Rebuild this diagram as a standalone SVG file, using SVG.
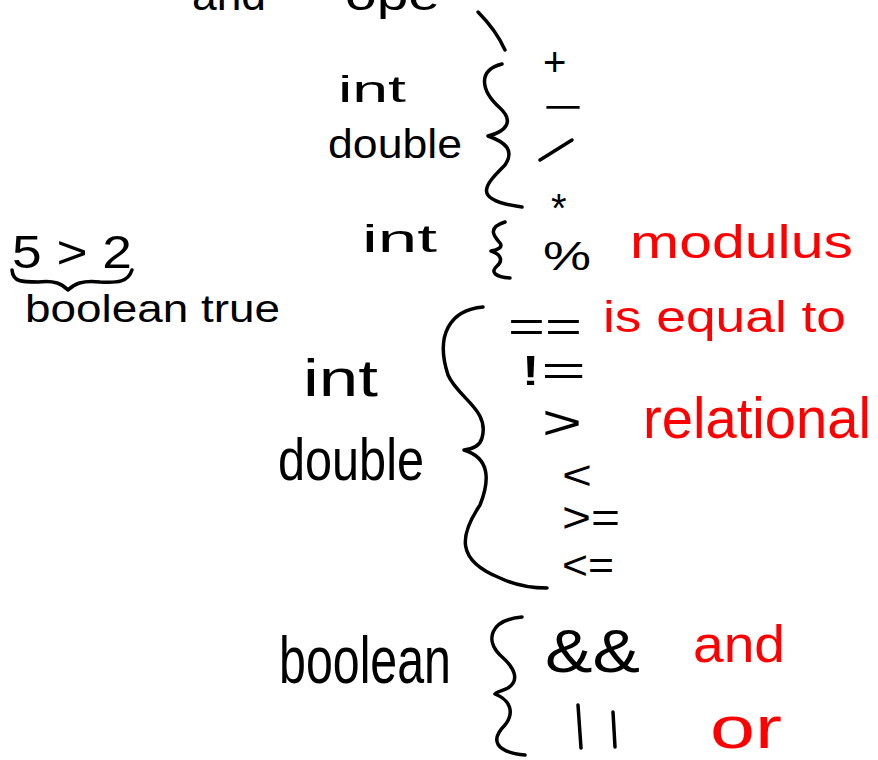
<svg xmlns="http://www.w3.org/2000/svg" width="878" height="760" viewBox="0 0 878 760">
<style>
text{font-family:"Liberation Sans","DejaVu Sans",sans-serif;fill:#000}
.r{fill:#f00}
.b{fill:none;stroke:#000;stroke-width:3.5;stroke-linecap:round;stroke-linejoin:round}
</style>
<rect width="878" height="760" fill="#fff"/>
<g id="top-cut">
<text x="192" y="10" font-size="44" textLength="74" lengthAdjust="spacingAndGlyphs">and</text>
<text x="345" y="10" font-size="44" textLength="95" lengthAdjust="spacingAndGlyphs">ope</text>
</g>
<g id="arith">
<text x="338" y="102" font-size="36" textLength="68" lengthAdjust="spacingAndGlyphs">int</text>
<text x="328" y="158" font-size="40" textLength="134" lengthAdjust="spacingAndGlyphs">double</text>
<path class="b" d="M478,12 Q496,30 505,50"/>
<path class="b" d="M502,64 C478,70 480,90 500,108 C515,122 505,132 488,136 C505,142 515,150 505,165 C485,185 470,200 522,207"/>
<text x="543" y="76" font-size="40">+</text>
<text x="543" y="120" font-size="38" textLength="40" lengthAdjust="spacingAndGlyphs">−</text>
<path class="b" d="M540,160 L572,140"/>
<text x="551" y="222" font-size="40">*</text>
</g>
<g id="mod">
<text x="362" y="252" font-size="38" textLength="75" lengthAdjust="spacingAndGlyphs">int</text>
<path class="b" d="M505,222 C485,228 496,238 500,243 C503,247 498,250 491,251 C503,255 502,262 497,266 C490,272 495,277 510,278"/>
<text x="543" y="270" font-size="40" textLength="48" lengthAdjust="spacingAndGlyphs">%</text>
<text x="630" y="258" font-size="46" class="r" textLength="223" lengthAdjust="spacingAndGlyphs">modulus</text>
</g>
<g id="bool-example">
<text x="12" y="268" font-size="46" textLength="120" lengthAdjust="spacingAndGlyphs">5 &gt; 2</text>
<path class="b" d="M12,270 C13,282 22,282 38,282 C55,280 62,284 68,290 C74,284 82,280 100,282 C118,283 128,282 132,270"/>
<text x="25" y="322" font-size="38" textLength="255" lengthAdjust="spacingAndGlyphs">boolean true</text>
</g>
<g id="relational">
<text x="303" y="396" font-size="52" textLength="75" lengthAdjust="spacingAndGlyphs">int</text>
<text x="278" y="480" font-size="60" textLength="146" lengthAdjust="spacingAndGlyphs">double</text>
<path class="b" d="M483,307 C450,310 435,335 448,375 C458,398 490,410 482,438 C480,446 472,449 464,450 C490,458 490,480 480,505 C460,535 455,560 500,578 C515,585 530,588 547,588"/>
<text x="508" y="341" font-size="42" textLength="74" lengthAdjust="spacingAndGlyphs">==</text>
<text x="520" y="385" font-size="42" textLength="66" lengthAdjust="spacingAndGlyphs">!=</text>
<text x="542" y="439" font-size="48" textLength="40" lengthAdjust="spacingAndGlyphs">&gt;</text>
<text x="562" y="489" font-size="40" textLength="30" lengthAdjust="spacingAndGlyphs">&lt;</text>
<text x="562" y="532" font-size="42" textLength="58" lengthAdjust="spacingAndGlyphs">&gt;=</text>
<text x="562" y="579" font-size="40" textLength="52" lengthAdjust="spacingAndGlyphs">&lt;=</text>
<text x="603" y="332" font-size="44" class="r" textLength="243" lengthAdjust="spacingAndGlyphs">is equal to</text>
<text x="643" y="438" font-size="58" class="r" textLength="228" lengthAdjust="spacingAndGlyphs">relational</text>
</g>
<g id="logical">
<text x="279" y="683" font-size="66" textLength="172" lengthAdjust="spacingAndGlyphs">boolean</text>
<path class="b" d="M522,617 C490,620 485,640 500,655 C515,668 520,680 508,688 C502,691 497,692 495,694 C510,700 515,712 505,725 C490,740 495,752 525,755"/>
<text x="545" y="672" font-size="62" textLength="95" lengthAdjust="spacingAndGlyphs">&amp;&amp;</text>
<path class="b" d="M578,705 L581,748 M613,712 L615,747"/>
<text x="693" y="662" font-size="52" class="r" textLength="92" lengthAdjust="spacingAndGlyphs">and</text>
<text x="710" y="748" font-size="60" class="r" textLength="72" lengthAdjust="spacingAndGlyphs">or</text>
</g>
</svg>
